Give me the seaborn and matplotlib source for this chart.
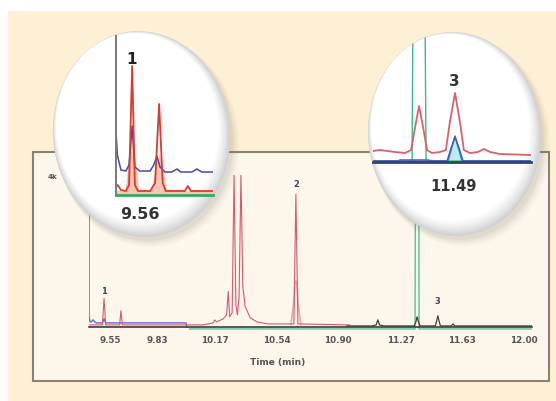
import numpy as np
import pandas as pd
import matplotlib
matplotlib.use("Agg")
import matplotlib.pyplot as plt
from matplotlib.patches import Ellipse, Rectangle
import seaborn as sns

W, H = 556, 402

# ---------------- main chromatogram (time in min, signal in a.u.) ----------------
blue_t = [9.426, 9.4265, 9.432, 9.44, 9.45, 9.46, 9.47, 9.505, 9.515, 9.525, 9.60, 10.00, 10.005]
blue_y = [300, 10, 5, 5, 7, 5, 4, 4, 8, 4, 4, 4, 0]

red_t = [9.426, 9.505, 9.515, 9.525, 9.607, 9.615, 9.623, 10.10, 10.16, 10.17, 10.18,
         10.22, 10.24, 10.25, 10.258, 10.273, 10.284, 10.295, 10.304, 10.314, 10.325,
         10.336, 10.35, 10.38, 10.42, 10.48, 10.638, 10.65, 10.662, 10.97]
red_y = [2, 2, 28, 2, 2, 16, 2, 2, 4, 7, 5,
         8, 12, 35, 10, 14, 150, 22, 12, 30, 150,
         40, 20, 9, 5, 3, 3, 131, 3, 2]

pink_t = [10.62, 10.636, 10.645, 10.655, 10.664, 10.68]
pink_y = [2, 22, 45, 45, 22, 2]

green_t = [10.02, 11.355, 11.360, 11.374, 11.379, 12.047]
green_y = [-2, -2, 400, 400, -2, -2]

dark_t = [10.95, 11.10, 11.125, 11.135, 11.145, 11.17, 11.35, 11.36, 11.367, 11.375,
          11.385, 11.475, 11.483, 11.49, 11.497, 11.505, 11.57, 11.58, 11.59, 12.047]
dark_y = [1, 1, 2, 7, 2, 1, 1, 5, 10, 5,
          1, 1, 6, 11, 6, 1, 1, 3, 1, 1]

tick_vals = [9.55, 9.83, 10.17, 10.54, 10.90, 11.27, 11.63, 12.00]
tick_labels = ["9.55", "9.83", "10.17", "10.54", "10.90", "11.27", "11.63", "12.00"]

peak_names = ["1", "2", "3"]
peak_t = [9.515, 10.65, 11.49]
peak_label_y = [36, 142, 26]

# ---------------- inset 1 (around 9.56) ----------------
in1_red_t = [9.524, 9.528, 9.535, 9.546, 9.553, 9.560, 9.566, 9.573, 9.600, 9.611,
             9.620, 9.628, 9.635, 9.677, 9.684, 9.691, 9.740]
in1_red_y = [8, 10, 5, 4, 10, 129, 10, 4, 4, 12,
             91, 12, 4, 4, 9, 4, 4]

in1_fill_t = [9.524, 9.544, 9.553, 9.560, 9.566, 9.575, 9.602, 9.611, 9.620, 9.628, 9.637, 9.740]
in1_fill_y = [4, 4, 40, 60, 40, 4, 4, 26, 42, 26, 4, 4]

in1_blue_t = [9.5245, 9.527, 9.535, 9.546, 9.553, 9.560, 9.566, 9.577, 9.600, 9.608,
              9.615, 9.622, 9.633, 9.648, 9.660, 9.668, 9.693, 9.704, 9.715, 9.740]
in1_blue_y = [60, 40, 25, 24, 30, 69, 28, 24, 24, 30,
              39, 28, 23, 23, 26, 23, 23, 26, 23, 23]

in1_ticks = [9.582, 9.637, 9.693]

# ---------------- inset 2 (around 11.49) ----------------
in2_red_t = [11.221, 11.244, 11.293, 11.326, 11.346, 11.359, 11.372, 11.385, 11.398, 11.414,
             11.441, 11.460, 11.473, 11.490, 11.506, 11.519, 11.539, 11.565, 11.585, 11.605,
             11.637, 11.739]
in2_red_y = [11, 12, 10, 9, 12, 35, 56, 35, 12, 9,
             10, 12, 40, 69, 40, 12, 9, 10, 13, 10,
             8, 7]

in2_green_t = [11.221, 11.349, 11.355, 11.388, 11.395, 11.739]
in2_green_y = [1, 1, 300, 300, 1, 1]

in2_teal_t = [11.221, 11.467, 11.480, 11.490, 11.500, 11.513, 11.739]
in2_teal_y = [1, 1, 15, 26, 15, 1, 1]

in2_blue_t = [11.221, 11.302, 11.31, 11.40, 11.42, 11.464, 11.477, 11.490, 11.503, 11.516, 11.739]
in2_blue_y = [1, 1, 2, 2, 1, 1, 14, 25, 14, 1, 1]

in2_ticks = [11.264, 11.372, 11.483, 11.585, 11.696]


def px_axes(fig, left, top, right, bottom, z):
    ax = fig.add_axes([left / W, 1 - bottom / H, (right - left) / W, (bottom - top) / H])
    ax.set_zorder(z)
    ax.patch.set_visible(False)
    return ax


def trace(ax, t, y, color, lw, z=2):
    sns.lineplot(x=t, y=y, ax=ax, color=color, lw=lw, estimator=None, sort=False, zorder=z)
    return ax.lines[-1]


sns.set_style("white")
plt.rcParams['font.family'] = ['DejaVu Sans']

fig = plt.figure(figsize=(W / 100, H / 100), dpi=100)
fig.patch.set_facecolor("white")

# background, peach panel and the chart box
bg = px_axes(fig, 0, 0, W, H, 0)
bg.set_xlim(0, W)
bg.set_ylim(H, 0)
bg.axis("off")
bg.add_patch(Rectangle((8, 12), W - 8, H - 12, facecolor="#fdf0d4", edgecolor="none"))
bg.add_patch(Rectangle((33, 153), 549 - 33, 382 - 153, facecolor="#fdf6eb",
                       edgecolor="#8b8170", lw=1.5))
bg.text(53, 177, "4k", fontsize=5, fontweight="bold", color="#555555", ha="center", va="center")

# main chromatogram
ax = px_axes(fig, 89, 176, 532, 332, 1)
trace(ax, green_t, green_y, "#3dbf8e", 0.9)
trace(ax, blue_t, blue_y, "#6565cf", 1.0)
trace(ax, pink_t, pink_y, "#eda5b3", 1.2)
trace(ax, red_t, red_y, "#d65a70", 0.8)
trace(ax, dark_t, dark_y, "#4a3c3c", 0.9)
ax.set_xlim(9.426, 12.047)
ax.set_ylim(-4, 150)
for s in ["top", "right", "left"]:
    ax.spines[s].set_visible(False)
ax.spines["bottom"].set_position(("data", 0))
ax.spines["bottom"].set_color("#3d3d3d")
ax.spines["bottom"].set_linewidth(1.2)
ax.set_yticks([])
ax.set_xticks(tick_vals)
ax.set_xticklabels(tick_labels)
ax.tick_params(axis="x", direction="out", length=2, width=0.6, color="#777777", pad=4,
               labelsize=6.3, labelcolor="#555555")
for lab in ax.get_xticklabels():
    lab.set_fontweight("bold")
ax.set_xlabel("Time (min)", fontsize=6.5, fontweight="bold", color="#555555")
ax.xaxis.set_label_coords((278 - 89) / (532 - 89), (332 - 358) / 156)
for name, t, y in zip(peak_names, peak_t, peak_label_y):
    ax.text(t, y, name, fontsize=6, fontweight="bold", color="#444455", ha="center", va="center")

# magnifier ellipses: soft drop shadow, grey rim towards lower right, white face
ov = px_axes(fig, 0, 0, W, H, 2)
ov.set_xlim(0, W)
ov.set_ylim(H, 0)
ov.axis("off")
clips = []
shades = ["#dadada", "#e2e2e2", "#e9e9e9", "#efefef", "#f5f5f5", "#fafafa", "#ffffff"]
for cx, cy, rx, ry, ang in [(141.5, 135, 88.5, 103, -6), (454.5, 135, 86.5, 102, -4)]:
    for k, a in enumerate([0.07, 0.06, 0.05, 0.04]):
        ov.add_patch(Ellipse((cx + 3 + k, cy + 4 + k), 2 * rx + 2 * k, 2 * ry + 2 * k, angle=ang,
                             facecolor="#7a7060", alpha=a, edgecolor="none"))
    base = Ellipse((cx, cy), 2 * rx, 2 * ry, angle=ang, facecolor="#d2d2d2", edgecolor="none")
    ov.add_patch(base)
    clips.append(base)
    for k, c in enumerate(shades):
        s = 1 - 0.012 * (k + 1)
        ov.add_patch(Ellipse((cx - (1 - s) * rx * 0.55, cy - (1 - s) * ry * 0.75),
                             2 * rx * s, 2 * ry * s, angle=ang, facecolor=c, edgecolor="none"))
ov.text(140, 215, "9.56", fontsize=11.5, fontweight="bold", color="#333333", ha="center", va="center")
ov.text(453, 187, "11.49", fontsize=10.5, fontweight="bold", color="#333333", ha="center", va="center")
ov.text(132, 60, "1", fontsize=11, fontweight="bold", color="#222222", ha="center", va="center")
ov.text(454, 82, "3", fontsize=11, fontweight="bold", color="#333333", ha="center", va="center")

# inset 1
a1 = px_axes(fig, 116, 37, 213, 196, 3)
a1.fill_between(in1_fill_t, 0, in1_fill_y, color="#f9c7b2", lw=0, zorder=1)
trace(a1, in1_blue_t, in1_blue_y, "#4646b4", 1.1)
trace(a1, in1_red_t, in1_red_y, "#dc3a2c", 1.3)
a1.set_xlim(9.524, 9.740)
a1.set_ylim(0, 159)
for s in ["top", "right"]:
    a1.spines[s].set_visible(False)
a1.spines["bottom"].set_color("#3aa860")
a1.spines["bottom"].set_linewidth(2)
a1.spines["left"].set_color("#7a7a7a")
a1.spines["left"].set_linewidth(1.4)
a1.set_xticks(in1_ticks)
a1.set_xticklabels([])
a1.set_yticks([63, 124])
a1.set_yticklabels([])
a1.tick_params(axis="x", direction="out", length=3, width=0.8, color="#888888")
a1.tick_params(axis="y", direction="out", length=2, width=0.8, color="#999999")

# inset 2
a2 = px_axes(fig, 373, 35, 531, 163, 3)
a2.fill_between(in2_teal_t, 0, in2_teal_y, color="#b8eef0", lw=0, zorder=1)
trace(a2, in2_green_t, in2_green_y, "#3cb88a", 1.0)
trace(a2, in2_red_t, in2_red_y, "#d9626a", 1.3)
trace(a2, in2_teal_t, in2_teal_y, "#1f9e9a", 1.1)
trace(a2, in2_blue_t, in2_blue_y, "#5b4fd0", 1.1)
a2.set_xlim(11.221, 11.739)
a2.set_ylim(0, 128)
for s in ["top", "right", "left"]:
    a2.spines[s].set_visible(False)
a2.spines["bottom"].set_color("#2d4b52")
a2.spines["bottom"].set_linewidth(2)
a2.set_xticks(in2_ticks)
a2.set_xticklabels([])
a2.set_yticks([])
a2.tick_params(axis="x", direction="out", length=3, width=0.8, color="#555555")

for a, clip in [(a1, clips[0]), (a2, clips[1])]:
    for art in list(a.lines) + list(a.collections):
        art.set_clip_path(clip)

fig.savefig("out.png", dpi=100)
